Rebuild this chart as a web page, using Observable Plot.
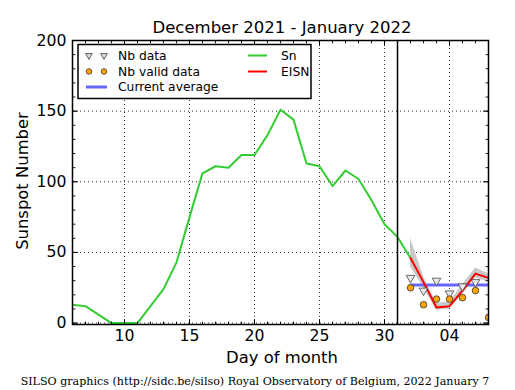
<!DOCTYPE html>
<html>
<head>
<meta charset="utf-8">
<script src="https://cdn.jsdelivr.net/npm/d3@7"></script>
<script src="https://cdn.jsdelivr.net/npm/@observablehq/plot@0.6"></script>
<style>
  body { margin: 0; background: #fff; }
  #chart { position: relative; width: 515px; height: 390px; }
  svg { font-family: "DejaVu Sans", sans-serif; }
</style>
</head>
<body>
<div id="chart"></div>
<script>
// ---- data (day index: Dec 6 = 6 ... Dec 31 = 31, Jan 1 = 32 ... Jan 7 = 38)
const snDays = [6,7,8,9,10,11,12,13,14,15,16,17,18,19,20,21,22,23,24,25,26,27,28,29,30,31,32];
const snValues = [13,12,6,0,0,0,12,24,43,75,106,111,110,119,119,133,151,144,113,111,97,108,102,87,70,61,46];

const eisnDays = [32,33,34,35,36,37,38];
const eisnValues = [46,29,11,12,23,35,32];
const eisnLow = [40,25,9,10,20,32,29];
const eisnHigh = [60,33,14,15,27,39,35];

const nbDataDays = [32,33,34,35,36,37];
const nbDataValues = [32,23,30,21,26,29];

const nbValidDays = [32,33,34,35,36,37,38];
const nbValidValues = [25,13,17,17,18,23,4];

const avgDays = [32,38];
const avgValues = [27,27];

const monthBoundary = [31];

const xMajorTicks = [10,15,20,25,30,35];
const xTickLabels = ["10","15","20","25","30","04"];
const yMajorTicks = [0,50,100,150,200];
const xMinorTicks = d3.range(6, 39);
const yMinorTicks = d3.range(0, 201, 10);

const title = "December 2021 - January 2022";
const xLabel = "Day of month";
const yLabel = "Sunspot Number";
const caption = "SILSO graphics (http://sidc.be/silso) Royal Observatory of Belgium, 2022 January 7";

// tables built from arrays
const sn = snDays.map((d, i) => ({day: d, v: snValues[i]}));
const eisn = eisnDays.map((d, i) => ({day: d, v: eisnValues[i], lo: eisnLow[i], hi: eisnHigh[i]}));
const nbData = nbDataDays.map((d, i) => ({day: d, v: nbDataValues[i]}));
const nbValid = nbValidDays.map((d, i) => ({day: d, v: nbValidValues[i]}));
const avg = avgDays.map((d, i) => ({day: d, v: avgValues[i]}));

const labelFmt = d => xTickLabels[xMajorTicks.indexOf(d)];

// straight tick shape for inward tick marks
const tickShape = {draw(context, l) { context.moveTo(0, 0); context.lineTo(0, -l); }};
const inTicksX = (values, side, len, w) => Plot.vector(values, {
  x: d => d, frameAnchor: side, length: len, rotate: side === "bottom" ? 0 : 180,
  anchor: "start", shape: tickShape, stroke: "#000", strokeWidth: w
});
const inTicksY = (values, side, len, w) => Plot.vector(values, {
  y: d => d, frameAnchor: side, length: len, rotate: side === "left" ? 90 : 270,
  anchor: "start", shape: tickShape, stroke: "#000", strokeWidth: w
});

const plot = Plot.plot({
  width: 515,
  height: 390,
  marginLeft: 72,
  marginRight: 27,
  marginTop: 40,
  marginBottom: 66,
  style: {fontFamily: "DejaVu Sans, sans-serif", background: "white"},
  x: {domain: [6, 38]},
  y: {domain: [-1, 200]},
  marks: [
    Plot.gridX(xMajorTicks, {stroke: "#000", strokeOpacity: 1, strokeWidth: 0.8, strokeDasharray: "1,3"}),
    Plot.gridY([0, 50, 100, 150], {stroke: "#000", strokeOpacity: 1, strokeWidth: 0.8, strokeDasharray: "1,3"}),
    Plot.areaY(eisn, {x: "day", y1: "lo", y2: "hi", fill: "#c8c8c8", clip: true}),
    Plot.line(sn, {x: "day", y: "v", stroke: "#33cc33", strokeWidth: 2, clip: true}),
    Plot.line(avg, {x: "day", y: "v", stroke: "#6666ff", strokeWidth: 3, clip: true}),
    Plot.line(eisn, {x: "day", y: "v", stroke: "#ff0000", strokeWidth: 2, clip: true}),
    Plot.dot(nbData, {x: "day", y: "v", symbol: "triangle", rotate: 180, r: 3.2, fill: "#e8e8e8", stroke: "#444", strokeWidth: 0.8, clip: true}),
    Plot.dot(nbValid, {x: "day", y: "v", r: 3.3, fill: "#ffa500", stroke: "#333", strokeWidth: 0.8, clip: true}),
    Plot.ruleX(monthBoundary, {stroke: "#000", strokeWidth: 1.5}),
    // inward tick marks on all four sides
    inTicksX(xMinorTicks, "bottom", 2.5, 0.9),
    inTicksX(xMinorTicks, "top", 2.5, 0.9),
    inTicksY(yMinorTicks, "left", 2.5, 0.9),
    inTicksY(yMinorTicks, "right", 2.5, 0.9),
    inTicksX(xMajorTicks, "bottom", 5, 1),
    inTicksX(xMajorTicks, "top", 5, 1),
    inTicksY(yMajorTicks, "left", 5, 1),
    inTicksY(yMajorTicks, "right", 5, 1),
    // tick labels
    Plot.axisX(xMajorTicks, {anchor: "bottom", tickSize: 0, tickPadding: 5, tickFormat: labelFmt, fontSize: 15.7, fill: "#000", label: null}),
    Plot.axisY(yMajorTicks, {anchor: "left", tickSize: 0, tickPadding: 6, tickFormat: d => String(d), fontSize: 15.7, fill: "#000", label: null}),
    Plot.frame({stroke: "#000", strokeWidth: 1.5})
  ]
});

document.getElementById("chart").appendChild(plot);

const svg = d3.select(plot);
// title and axis labels
svg.append("text").attr("x", 282).attr("y", 33).attr("text-anchor", "middle")
  .attr("font-size", 16.5).attr("fill", "#000").text(title);
svg.append("text").attr("x", 282).attr("y", 363).attr("text-anchor", "middle")
  .attr("font-size", 16.4).attr("fill", "#000").text(xLabel);
svg.append("text").attr("transform", "translate(28,181) rotate(-90)").attr("text-anchor", "middle")
  .attr("font-size", 16.4).attr("fill", "#000").text(yLabel);
svg.append("text").attr("x", 255).attr("y", 385).attr("text-anchor", "middle")
  .attr("font-family", "DejaVu Serif, serif").attr("font-size", 11.1).attr("fill", "#000").text(caption);

// legend
const lg = svg.append("g").attr("font-size", 12.3).attr("fill", "#000").attr("text-anchor", "start");
lg.append("rect").attr("x", 78).attr("y", 44.5).attr("width", 233).attr("height", 54)
  .attr("fill", "white").attr("stroke", "#000").attr("stroke-width", 1.5);
const tri = d3.symbol(d3.symbolTriangle, 20)();
[89, 104].forEach(x => {
  lg.append("path").attr("d", tri).attr("transform", `translate(${x},55.5) rotate(180)`)
    .attr("fill", "#d8d8d8").attr("stroke", "#444").attr("stroke-width", 0.8);
  lg.append("circle").attr("cx", x).attr("cy", 71.5).attr("r", 2.8)
    .attr("fill", "#ffa500").attr("stroke", "#333").attr("stroke-width", 0.8);
});
lg.append("line").attr("x1", 86).attr("x2", 107).attr("y1", 87).attr("y2", 87)
  .attr("stroke", "#6666ff").attr("stroke-width", 3);
lg.append("line").attr("x1", 248).attr("x2", 267).attr("y1", 55.5).attr("y2", 55.5)
  .attr("stroke", "#33cc33").attr("stroke-width", 2);
lg.append("line").attr("x1", 248).attr("x2", 267).attr("y1", 71.5).attr("y2", 71.5)
  .attr("stroke", "#ff0000").attr("stroke-width", 2);
const lt = (x, y, t) => lg.append("text").attr("x", x).attr("y", y).attr("dy", "0.36em").text(t);
lt(118, 55.5, "Nb data");
lt(118, 71.5, "Nb valid data");
lt(118, 87, "Current average");
lt(281, 55.5, "Sn");
lt(281, 71.5, "EISN");
</script>
</body>
</html>
